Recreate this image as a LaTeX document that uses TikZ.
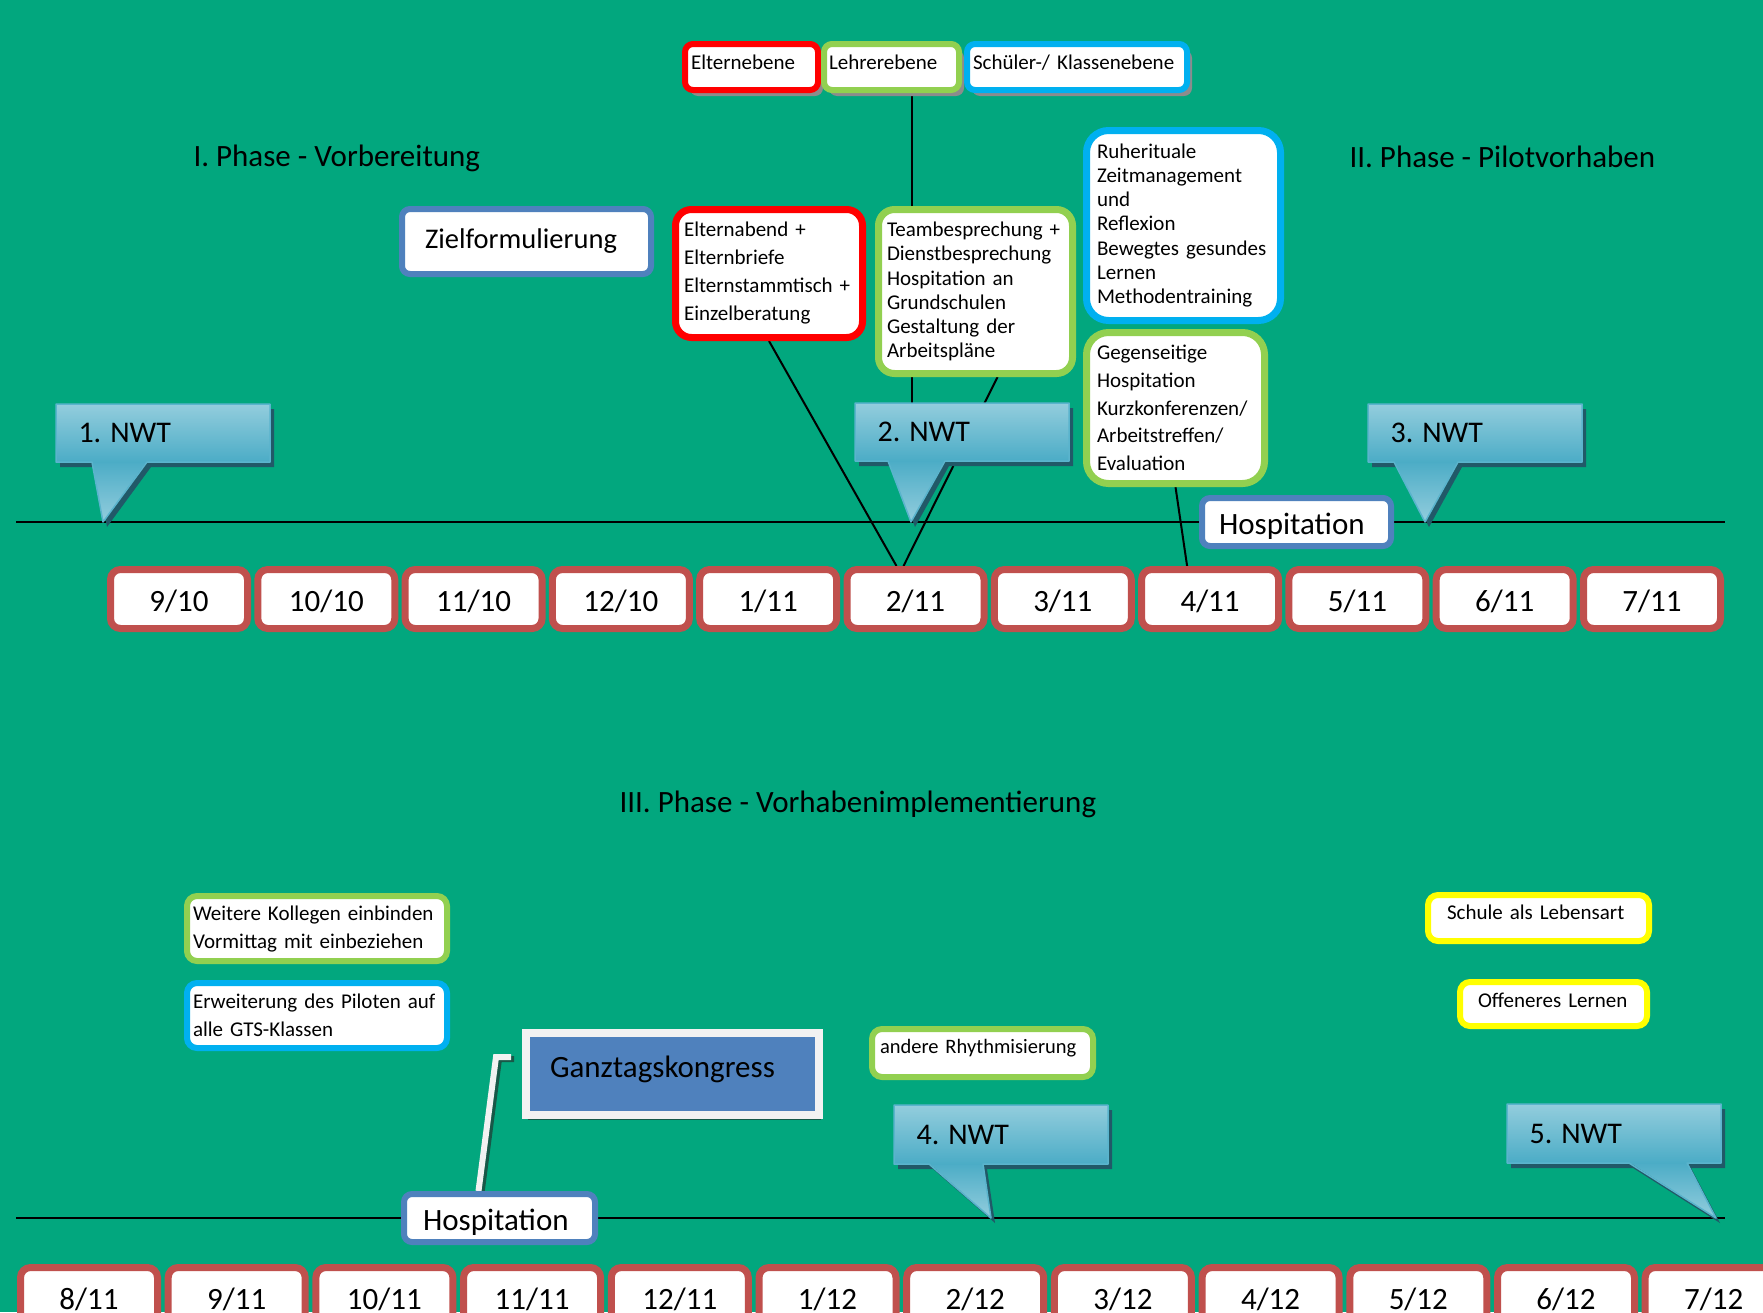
\documentclass[tikz,border=0pt]{standalone}
\usepackage{fontspec}
\setmainfont{Carlito}
\usetikzlibrary{calc}
\usetikzlibrary{shadows}
\definecolor{hintergrund}{RGB}{2,167,126}
\definecolor{elternrot}{RGB}{255,0,0}
\definecolor{lehrergruen}{RGB}{146,208,80}
\definecolor{schuelerblau}{RGB}{0,176,240}
\definecolor{hospblau}{RGB}{79,129,189}
\definecolor{monatrot}{RGB}{192,80,77}
\definecolor{gelb}{RGB}{255,255,0}
\definecolor{schattengrau}{RGB}{140,140,140}
\definecolor{nwthell}{RGB}{147,205,221}
\definecolor{nwtdunkel}{RGB}{75,172,198}
\definecolor{nwtkante}{RGB}{90,180,205}
\definecolor{nwtschattenfarbe}{RGB}{33,89,104}
\definecolor{kongressrahmen}{RGB}{242,242,242}
\definecolor{kongressschatten}{RGB}{24,88,72}

\pgfdeclarelayer{background}
\pgfsetlayers{background,main}

\tikzset{
  ebene/.style={draw, fill=white, rounded corners=8pt, line width=6pt, align=left,
    inner ysep=0pt, minimum height=46pt, text height=15pt, text depth=10pt,
    font=\fontsize{21}{24}\selectfont,
    drop shadow={shadow xshift=5pt, shadow yshift=-6pt, fill=schattengrau, opacity=1}},
  infobox/.style={draw, fill=white, rounded corners=16pt, line width=7pt, align=left,
    inner ysep=0pt},
  kleinbox/.style={draw, fill=white, rounded corners=10pt, line width=6pt, align=left,
    inner ysep=0pt},
  titelbox/.style={draw=hospblau, fill=white, rounded corners=8pt, line width=6pt,
    align=left, inner ysep=0pt},
  monat/.style={draw=monatrot, fill=white, rounded corners=10pt, line width=7pt,
    minimum width=137pt, minimum height=59pt, inner sep=0pt,
    text height=30pt, text depth=5pt, font=\fontsize{31}{36}\selectfont},
  phase/.style={anchor=west, font=\fontsize{31}{36}\selectfont},
  verbinder/.style={line width=2pt},
  zeitachse/.style={line width=2.5pt},
  nwtrahmen/.style={top color=nwthell, bottom color=nwtdunkel},
  nwtspitze/.style={top color=nwtdunkel, bottom color=nwthell},
  nwtrand/.style={draw=nwtkante, line width=1.5pt, line join=round},
  nwtschatten/.style={fill=nwtschattenfarbe},
  nwttext/.style={anchor=west, font=\fontsize{30}{36}\selectfont},
  kongresslinie/.style={draw=kongressrahmen, line width=6pt},
}

\begin{document}
\begin{tikzpicture}[x=1pt,y=-1pt]
\useasboundingbox (0,0) rectangle (1763,1312);
\begin{pgfonlayer}{background}
\fill[hintergrund] (0,0) rectangle (1763,1312);
\end{pgfonlayer}

% Ebenen
\node[ebene, draw=elternrot, minimum width=133pt, inner xsep=6pt, text width=121pt] (eltE) at (751.5,67) {Elternebene};
\node[ebene, draw=lehrergruen, minimum width=135pt, inner xsep=5pt, text width=125pt] (lehE) at (891.5,67) {Lehrerebene};
\node[ebene, draw=schuelerblau, minimum width=220pt, inner xsep=6pt, text width=208pt] (schE) at (1077,67) {Schüler-/ Klassenebene};

% Phasen
\node[phase] (phaseA) at (190,158) {I. Phase - Vorbereitung};
\node[phase] (phaseB) at (1346,157) {II. Phase - Pilotvorhaben};
\node[phase] (phaseC) at (616,804) {III. Phase - Vorhabenimplementierung};

% Phase I und II
\node[titelbox, minimum width=249pt, minimum height=65pt, inner xsep=23pt, text width=203pt,
  font=\fontsize{28.5}{32}\selectfont] (ziel) at (526.5,241.5) {Zielformulierung};
\node[infobox, draw=elternrot, minimum width=187pt, minimum height=128pt, inner xsep=8.5pt,
  text width=170pt, font=\fontsize{21}{28}\selectfont] (eltern) at (769,273.5)
  {Elternabend +\\Elternbriefe\\Elternstammtisch +\\Einzelberatung};
\node[infobox, draw=lehrergruen, minimum width=194pt, minimum height=164pt, inner xsep=8.5pt,
  text width=177pt, font=\fontsize{21}{24.2}\selectfont] (team) at (975.5,291.5)
  {Teambesprechung +\\Dienstbesprechung\\Hospitation an\\Grundschulen\\Gestaltung der\\Arbeitspläne};
\node[infobox, draw=schuelerblau, rounded corners=22pt, minimum width=194pt, minimum height=190pt,
  inner xsep=10.5pt, text width=173pt, font=\fontsize{21}{24.2}\selectfont] (ruhe) at (1183.5,225.5)
  {Ruherituale\\Zeitmanagement\\und\\Reflexion\\Bewegtes gesundes\\Lernen\\Methodentraining};
\node[infobox, draw=lehrergruen, rounded corners=22pt, minimum width=178pt, minimum height=151pt,
  inner xsep=10.5pt, text width=157pt, font=\fontsize{21}{27.8}\selectfont] (gegen) at (1175.5,408)
  {Gegenseitige\\Hospitation\\Kurzkonferenzen/\\Arbeitstreffen/\\Evaluation};
\node[titelbox, minimum width=189pt, minimum height=48pt, inner xsep=17pt, text width=155pt,
  text height=30pt, text depth=6pt, font=\fontsize{31}{36}\selectfont] (hospA) at (1296.5,522) {Hospitation};

% Phase III
\node[kleinbox, draw=lehrergruen, minimum width=260pt, minimum height=65pt, inner xsep=6pt,
  text width=248pt, font=\fontsize{21}{28}\selectfont] (weitere) at (317,928.5)
  {Weitere Kollegen einbinden\\Vormittag mit einbeziehen};
\node[kleinbox, draw=schuelerblau, minimum width=260pt, minimum height=65pt, inner xsep=6pt,
  text width=248pt, font=\fontsize{21}{28}\selectfont] (erweit) at (317,1015.5)
  {Erweiterung des Piloten auf\\alle GTS-Klassen};
\node[draw=kongressrahmen, fill=hospblau, line width=8pt, minimum width=293pt, minimum height=82pt,
  inner xsep=24pt, inner ysep=0pt, text width=245pt, align=left, text height=24pt, text depth=18pt,
  font=\fontsize{31}{36}\selectfont,
  drop shadow={shadow xshift=2pt, shadow yshift=-5pt, fill=kongressschatten, opacity=1}]
  (kongress) at (672.5,1074) {Ganztagskongress};
\node[kleinbox, draw=lehrergruen, minimum width=221pt, minimum height=48pt, inner xsep=8pt,
  text width=205pt, text height=16pt, text depth=16pt, font=\fontsize{20.5}{24}\selectfont]
  (rhythmus) at (982.5,1053) {\mbox{andere Rhythmisierung}};
\node[kleinbox, draw=gelb, minimum width=221pt, minimum height=46pt, inner xsep=19pt,
  text width=183pt, text height=16pt, text depth=14pt, font=\fontsize{21}{24}\selectfont]
  (schule) at (1538.5,918) {Schule als Lebensart};
\node[kleinbox, draw=gelb, minimum width=187pt, minimum height=44pt, inner xsep=18pt,
  text width=151pt, text height=16pt, text depth=10pt, font=\fontsize{21}{24}\selectfont]
  (offen) at (1553.5,1004) {Offeneres Lernen};
\node[titelbox, minimum width=191pt, minimum height=48pt, inner xsep=19pt, text width=153pt,
  text height=30pt, text depth=6pt, font=\fontsize{31}{36}\selectfont] (hospB) at (499.5,1218) {Hospitation};

% Monate
\foreach \mo [count=\i] in {9/10,10/10,11/10,12/10,1/11,2/11,3/11,4/11,5/11,6/11,7/11}
  \node[monat] (m\i) at ({179+147.3*(\i-1)},599) {\mo};
\foreach \mo [count=\i] in {8/11,9/11,10/11,11/11,12/11,1/12,2/12,3/12,4/12,5/12,6/12,7/12}
  \node[monat] (n\i) at ({89+147.7*(\i-1)},1297) {\mo};

% NWT
\begin{scope}[shift={(56,404)}]
  \fill[nwtschatten] (4,5) -- (218,5) -- (218,63) -- (95,63) -- (51,123) -- (40,63) -- (4,63) -- cycle;
  \shade[nwtspitze] (36,57) -- (91,57) -- (47,118) -- cycle;
  \shade[nwtrahmen] (0,0) rectangle (214,58);
  \draw[nwtrand] (0,0) -- (214,0) -- (214,58) -- (91,58) -- (47,118) -- (36,58) -- (0,58) -- cycle;
  \node[nwttext] (nwtA) at (19,29) {1. NWT};
\end{scope}
\begin{scope}[shift={(855,403)}]
  \fill[nwtschatten] (4,5) -- (218,5) -- (218,63) -- (94,63) -- (60,124) -- (37,63) -- (4,63) -- cycle;
  \shade[nwtspitze] (33,57) -- (90,57) -- (56,119) -- cycle;
  \shade[nwtrahmen] (0,0) rectangle (214,58);
  \draw[nwtrand] (0,0) -- (214,0) -- (214,58) -- (90,58) -- (56,119) -- (33,58) -- (0,58) -- cycle;
  \node[nwttext] (nwtB) at (19,29) {2. NWT};
\end{scope}
\begin{scope}[shift={(1368,404)}]
  \fill[nwtschatten] (4,5) -- (218,5) -- (218,63) -- (94,63) -- (61,123) -- (30,63) -- (4,63) -- cycle;
  \shade[nwtspitze] (26,57) -- (90,57) -- (57,118) -- cycle;
  \shade[nwtrahmen] (0,0) rectangle (214,58);
  \draw[nwtrand] (0,0) -- (214,0) -- (214,58) -- (90,58) -- (57,118) -- (26,58) -- (0,58) -- cycle;
  \node[nwttext] (nwtC) at (19,29) {3. NWT};
\end{scope}
\begin{scope}[shift={(894,1105)}]
  \fill[nwtschatten] (4,5) -- (218,5) -- (218,64) -- (93,64) -- (101,118) -- (39,64) -- (4,64) -- cycle;
  \shade[nwtspitze] (35,58) -- (89,58) -- (97,113) -- cycle;
  \shade[nwtrahmen] (0,0) rectangle (214,59);
  \draw[nwtrand] (0,0) -- (214,0) -- (214,59) -- (89,59) -- (97,113) -- (35,59) -- (0,59) -- cycle;
  \node[nwttext] (nwtD) at (19,30) {4. NWT};
\end{scope}
\begin{scope}[shift={(1507,1104)}]
  \fill[nwtschatten] (4,5) -- (218,5) -- (218,64) -- (184,64) -- (213,119) -- (126,64) -- (4,64) -- cycle;
  \shade[nwtspitze] (122,58) -- (180,58) -- (209,114) -- cycle;
  \shade[nwtrahmen] (0,0) rectangle (214,59);
  \draw[nwtrand] (0,0) -- (214,0) -- (214,59) -- (180,59) -- (209,114) -- (122,59) -- (0,59) -- cycle;
  \node[nwttext] (nwtE) at (19,30) {5. NWT};
\end{scope}

% Zeitachsen und Verbinder
\coordinate (achseAl) at (16,522);
\coordinate (achseAr) at (1725,522);
\coordinate (achseBl) at (16,1218);
\coordinate (achseBr) at (1725,1218);
\coordinate (gkA) at (511,1057);
\coordinate (gkB) at (496,1057);
\begin{pgfonlayer}{background}
\draw[zeitachse] (achseAl) -- (achseAr);
\draw[zeitachse] (achseBl) -- (achseBr);
\draw[verbinder] ($(lehE.south)+(20,0)$) coordinate (lv) -- (lv |- achseAl);
\draw[verbinder] (eltern.south) -- ($(m6.north)+(-19,0)$);
\draw[verbinder] ($(team.south)+(22,0)$) -- ($(m6.north)+(-12,0)$);
\draw[verbinder] (gegen.south) -- ($(m8.north)+(-23,0)$);
\draw[kongresslinie, draw=kongressschatten, transform canvas={xshift=3pt,yshift=-2pt}]
  (gkA) -- (gkB) -- ($(hospB.north)+(-21,0)$);
\draw[kongresslinie] (gkA) -- (gkB) -- ($(hospB.north)+(-21,0)$);
\end{pgfonlayer}
\end{tikzpicture}
\end{document}
